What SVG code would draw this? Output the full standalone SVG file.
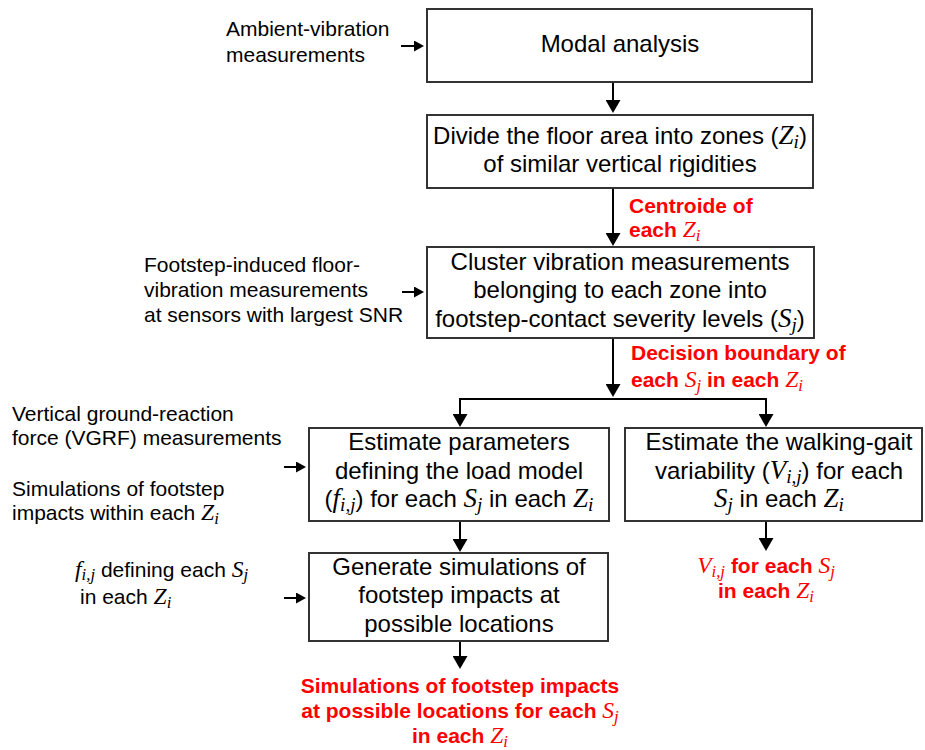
<svg xmlns="http://www.w3.org/2000/svg" width="925" height="750" viewBox="0 0 925 750">
<style>
  .box { fill: #ffffff; stroke: #333333; stroke-width: 2; }
  .bt { font-family: "Liberation Sans", Arial, sans-serif; font-size: 24px; fill: #000000; text-anchor: middle; }
  .lt { font-family: "Liberation Sans", Arial, sans-serif; font-size: 21px; fill: #000000; }
  .rt { font-family: "Liberation Sans", Arial, sans-serif; font-size: 21px; font-weight: bold; fill: #ff0000; }
  .m { font-family: "Liberation Serif", "Times New Roman", serif; font-style: italic; font-weight: normal; font-size: 1.12em; }
  .s { font-family: "Liberation Serif", "Times New Roman", serif; font-style: italic; font-weight: normal; font-size: 0.8em; }
  .ln { fill: none; stroke: #000000; stroke-width: 2; }
</style>
<defs>
  <marker id="big" viewBox="0 0 13 15" refX="1" refY="7.5" markerWidth="13" markerHeight="15" orient="auto" markerUnits="userSpaceOnUse">
    <path d="M0,0 L13,7.5 L0,15 Z" fill="#000000"/>
  </marker>
  <marker id="small" viewBox="0 0 10 11" refX="1" refY="5.5" markerWidth="10" markerHeight="11" orient="auto" markerUnits="userSpaceOnUse">
    <path d="M0,0 L10,5.5 L0,11 Z" fill="#000000"/>
  </marker>
</defs>

<g id="connectors">
  <line class="ln" x1="613" y1="82" x2="613" y2="101" marker-end="url(#big)"/>
  <line class="ln" x1="613" y1="188" x2="613" y2="234" marker-end="url(#big)"/>
  <line class="ln" x1="613" y1="338" x2="613" y2="385" marker-end="url(#big)"/>
  <polyline class="ln" points="460,415 460,399 766,399 766,415"/>
  <line class="ln" x1="460" y1="413" x2="460" y2="415" marker-end="url(#big)"/>
  <line class="ln" x1="766" y1="413" x2="766" y2="415" marker-end="url(#big)"/>
  <line class="ln" x1="460" y1="521" x2="460" y2="540" marker-end="url(#big)"/>
  <line class="ln" x1="460" y1="641" x2="460" y2="657" marker-end="url(#big)"/>
  <line class="ln" x1="766" y1="521" x2="766" y2="539" marker-end="url(#big)"/>
  <line class="ln" x1="401" y1="46" x2="415" y2="46" marker-end="url(#small)"/>
  <line class="ln" x1="402" y1="292" x2="415" y2="292" marker-end="url(#small)"/>
  <line class="ln" x1="284" y1="467" x2="297" y2="467" marker-end="url(#small)"/>
  <line class="ln" x1="284" y1="598" x2="297" y2="598" marker-end="url(#small)"/>
</g>

<g id="n-ambient">
  <text class="lt" x="226" y="36">Ambient-vibration</text>
  <text class="lt" x="226" y="62">measurements</text>
</g>

<g id="n-modal">
  <rect class="box" x="427" y="9" width="385" height="73"/>
  <text class="bt" x="620" y="52">Modal analysis</text>
</g>

<g id="n-divide">
  <rect class="box" x="427" y="115" width="386" height="73"/>
  <text class="bt" x="620" y="144">Divide the floor area into zones (<tspan class="m">Z</tspan><tspan class="s" dy="4">i</tspan><tspan dy="-4">)</tspan></text>
  <text class="bt" x="620" y="172">of similar vertical rigidities</text>
</g>

<g id="n-centroide">
  <text class="rt" x="629" y="213">Centroide of</text>
  <text class="rt" x="629" y="237">each <tspan class="m">Z</tspan><tspan class="s" dy="4">i</tspan></text>
</g>

<g id="n-footstep-meas">
  <text class="lt" x="144" y="272">Footstep-induced floor-</text>
  <text class="lt" x="144" y="297">vibration measurements</text>
  <text class="lt" x="144" y="322">at sensors with largest SNR</text>
</g>

<g id="n-cluster">
  <rect class="box" x="427" y="247" width="387" height="91"/>
  <text class="bt" x="620" y="270">Cluster vibration measurements</text>
  <text class="bt" x="620" y="298">belonging to each zone into</text>
  <text class="bt" x="620" y="327">footstep-contact severity levels (<tspan class="m">S</tspan><tspan class="s" dy="4">j</tspan><tspan dy="-4">)</tspan></text>
</g>

<g id="n-decision">
  <text class="rt" x="631" y="360">Decision boundary of</text>
  <text class="rt" x="631" y="387">each <tspan class="m">S</tspan><tspan class="s" dy="4">j</tspan><tspan dy="-4"> in each </tspan><tspan class="m">Z</tspan><tspan class="s" dy="4">i</tspan></text>
</g>

<g id="n-vgrf">
  <text class="lt" x="12" y="421">Vertical ground-reaction</text>
  <text class="lt" x="12" y="445">force (VGRF) measurements</text>
  <text class="lt" x="12" y="496">Simulations of footstep</text>
  <text class="lt" x="12" y="520">impacts within each <tspan class="m">Z</tspan><tspan class="s" dy="4">i</tspan></text>
</g>

<g id="n-estimate-params">
  <rect class="box" x="309" y="428" width="300" height="93"/>
  <text class="bt" x="459" y="450">Estimate parameters</text>
  <text class="bt" x="459" y="479">defining the load model</text>
  <text class="bt" x="459" y="507">(<tspan class="m">f</tspan><tspan class="s" dy="4">i,j</tspan><tspan dy="-4">) for each </tspan><tspan class="m">S</tspan><tspan class="s" dy="4">j</tspan><tspan dy="-4"> in each </tspan><tspan class="m">Z</tspan><tspan class="s" dy="4">i</tspan></text>
</g>

<g id="n-estimate-gait">
  <rect class="box" x="625" y="428" width="297" height="93"/>
  <text class="bt" x="779" y="450">Estimate the walking-gait</text>
  <text class="bt" x="779" y="479">variability (<tspan class="m">V</tspan><tspan class="s" dy="4">i,j</tspan><tspan dy="-4">) for each</tspan></text>
  <text class="bt" x="779" y="507"><tspan class="m">S</tspan><tspan class="s" dy="4">j</tspan><tspan dy="-4"> in each </tspan><tspan class="m">Z</tspan><tspan class="s" dy="4">i</tspan></text>
</g>

<g id="n-fij">
  <text class="lt" x="75" y="577"><tspan class="m">f</tspan><tspan class="s" dy="3">i,j</tspan><tspan dy="-3"> defining each </tspan><tspan class="m">S</tspan><tspan class="s" dy="3">j</tspan></text>
  <text class="lt" x="80" y="604">in each <tspan class="m">Z</tspan><tspan class="s" dy="4">i</tspan></text>
</g>

<g id="n-generate">
  <rect class="box" x="309" y="553" width="299" height="88"/>
  <text class="bt" x="459" y="575">Generate simulations of</text>
  <text class="bt" x="459" y="603">footstep impacts at</text>
  <text class="bt" x="459" y="632">possible locations</text>
</g>

<g id="n-vij-out">
  <text class="rt" x="766" y="573" text-anchor="middle"><tspan class="m">V</tspan><tspan class="s" dy="4">i,j</tspan><tspan dy="-4"> for each </tspan><tspan class="m">S</tspan><tspan class="s" dy="4">j</tspan></text>
  <text class="rt" x="766" y="598" text-anchor="middle">in each <tspan class="m">Z</tspan><tspan class="s" dy="4">i</tspan></text>
</g>

<g id="n-sim-out">
  <text class="rt" x="460" y="693" text-anchor="middle">Simulations of footstep impacts</text>
  <text class="rt" x="460" y="718" text-anchor="middle">at possible locations for each <tspan class="m">S</tspan><tspan class="s" dy="4">j</tspan></text>
  <text class="rt" x="460" y="743" text-anchor="middle">in each <tspan class="m">Z</tspan><tspan class="s" dy="4">i</tspan></text>
</g>
</svg>
